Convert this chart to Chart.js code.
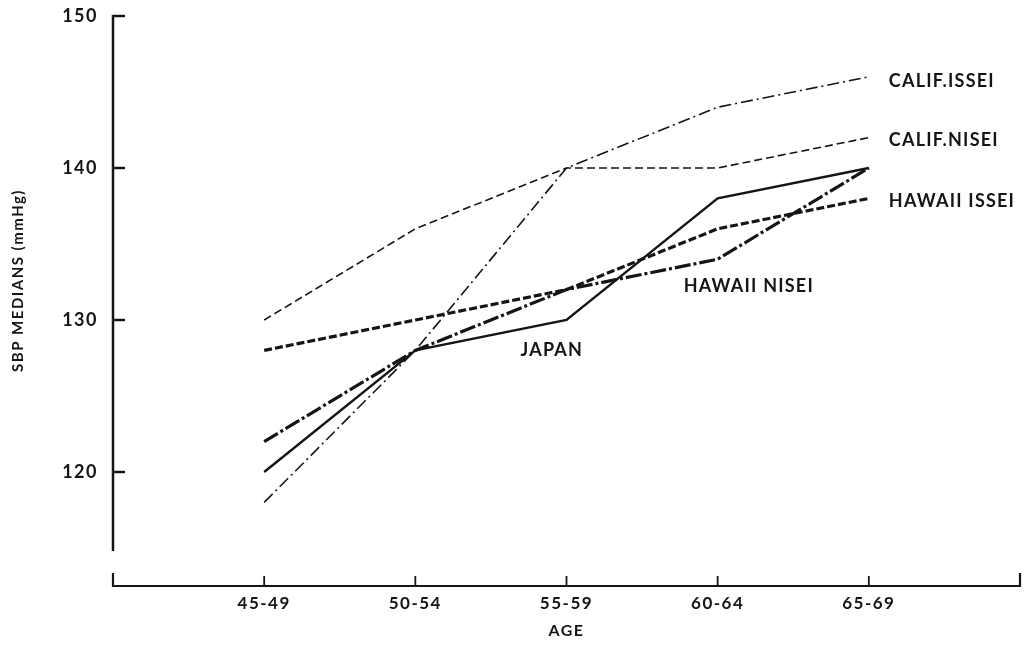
<!DOCTYPE html>
<html>
<head>
<meta charset="utf-8">
<script src="https://cdn.jsdelivr.net/npm/chart.js@4.4.0/dist/chart.umd.min.js"></script>
<style>
  html, body { margin: 0; padding: 0; background: #fff; }
  #wrap { width: 1026px; height: 649px; }
</style>
</head>
<body>
<div id="wrap"><canvas id="sbpChart"></canvas></div>
<script>
// age groups (x axis)
const ageGroups = ['45-49', '50-54', '55-59', '60-64', '65-69'];

// SBP medians (mmHg) per group
const califIssei  = [118, 128, 140, 144, 146];
const califNisei  = [130, 136, 140, 140, 142];
const hawaiiIssei = [128, 130, 132, 136, 138];
const hawaiiNisei = [122, 128, 132, 134, 140];
const japan       = [120, 128, 130, 138, 140];

const yTicks = [120, 130, 140, 150];

const INK = '#151515';
const FONT = 'Lato, "DejaVu Sans", sans-serif';

// blank slot either side so the axis runs past the first/last group
const xLabels = ['', ...ageGroups, ''];
const pad = arr => [null, ...arr, null];

// hand-drawn looking axes + curve names
const figurePlugin = {
  id: 'figure',
  beforeDraw(chart) {
    // the old typeface is set wide
    chart.ctx.letterSpacing = '1.5px';
  },
  afterDraw(chart) {
    const { ctx, chartArea, scales } = chart;
    const x = scales.x, y = scales.y;
    ctx.save();
    ctx.strokeStyle = INK;
    ctx.lineCap = 'butt';

    // y axis
    ctx.lineWidth = 2.5;
    ctx.beginPath();
    ctx.moveTo(chartArea.left, y.getPixelForValue(150) - 1);
    ctx.lineTo(chartArea.left, y.getPixelForValue(114.8));
    ctx.stroke();
    yTicks.forEach(v => {
      const py = y.getPixelForValue(v);
      ctx.beginPath();
      ctx.moveTo(chartArea.left, py);
      ctx.lineTo(chartArea.left + 12, py);
      ctx.stroke();
    });

    // x axis with turned-up ends
    const by = chartArea.bottom;
    ctx.lineWidth = 2.2;
    ctx.beginPath();
    ctx.moveTo(chartArea.left, by - 13);
    ctx.lineTo(chartArea.left, by);
    ctx.lineTo(chartArea.right, by);
    ctx.lineTo(chartArea.right, by - 13);
    ctx.stroke();
    ctx.lineWidth = 1.8;
    ageGroups.forEach((g, i) => {
      const px = x.getPixelForValue(i + 1);
      ctx.beginPath();
      ctx.moveTo(px, by);
      ctx.lineTo(px, by - 10);
      ctx.stroke();
    });

    // curve names
    ctx.fillStyle = INK;
    ctx.letterSpacing = '1.2px';
    ctx.font = 'bold 18px ' + FONT;
    ctx.textBaseline = 'middle';
    ctx.textAlign = 'left';
    const names = [
      ['CALIF.ISSEI', 5, 20, 145.7],
      ['CALIF.NISEI', 5, 20, 141.8],
      ['HAWAII ISSEI', 5, 20, 137.8],
      ['HAWAII NISEI', 4, -34, 132.2],
      ['JAPAN', 3, -46, 128]
    ];
    names.forEach(([txt, idx, dx, v]) => {
      ctx.fillText(txt, x.getPixelForValue(idx) + dx, y.getPixelForValue(v));
    });

    // y axis title
    ctx.letterSpacing = '1.5px';
    ctx.font = 'bold 15px ' + FONT;
    ctx.textAlign = 'center';
    ctx.translate(18, y.getPixelForValue(132.6));
    ctx.rotate(-Math.PI / 2);
    ctx.fillText('SBP MEDIANS (mmHg)', 0, 0);
    ctx.restore();
  }
};

const ctx = document.getElementById('sbpChart').getContext('2d');
new Chart(ctx, {
  type: 'line',
  data: {
    labels: xLabels,
    datasets: [
      { label: 'CALIF. ISSEI', data: pad(califIssei), borderWidth: 1.6, borderDash: [12, 4, 2, 4] },
      { label: 'CALIF. NISEI', data: pad(califNisei), borderWidth: 1.6, borderDash: [8, 4] },
      { label: 'HAWAII ISSEI', data: pad(hawaiiIssei), borderWidth: 3.2, borderDash: [8, 3] },
      { label: 'HAWAII NISEI', data: pad(hawaiiNisei), borderWidth: 3.2, borderDash: [16, 3, 3, 3] },
      { label: 'JAPAN', data: pad(japan), borderWidth: 2.4 }
    ].map(d => Object.assign({
      borderColor: INK,
      backgroundColor: INK,
      pointRadius: 0,
      tension: 0,
      fill: false
    }, d))
  },
  options: {
    responsive: true,
    maintainAspectRatio: false,
    animation: false,
    layout: { padding: { top: 16, right: 6, left: 0, bottom: 0 } },
    plugins: {
      legend: { display: false },
      tooltip: { enabled: false }
    },
    scales: {
      x: {
        offset: false,
        grid: { display: false, drawTicks: false },
        border: { display: false },
        ticks: {
          color: INK,
          font: { family: FONT, size: 17, weight: 'bold' },
          padding: 7,
          autoSkip: false,
          maxRotation: 0
        },
        title: {
          display: true,
          text: 'AGE',
          color: INK,
          font: { family: FONT, size: 16, weight: 'bold' },
          padding: { top: 4, bottom: 9 }
        },
        afterFit: s => { s.height = 63; s.paddingLeft = 0; s.paddingRight = 0; }
      },
      y: {
        min: 112.5,
        max: 150,
        grid: { display: false, drawTicks: false },
        border: { display: false },
        afterBuildTicks: s => { s.ticks = yTicks.map(v => ({ value: v })); },
        ticks: {
          color: INK,
          font: { family: FONT, size: 18, weight: 'bold' },
          padding: 15
        },
        afterFit: s => { s.width = 113; s.paddingTop = 0; s.paddingBottom = 0; }
      }
    }
  },
  plugins: [figurePlugin]
});
</script>
</body>
</html>
